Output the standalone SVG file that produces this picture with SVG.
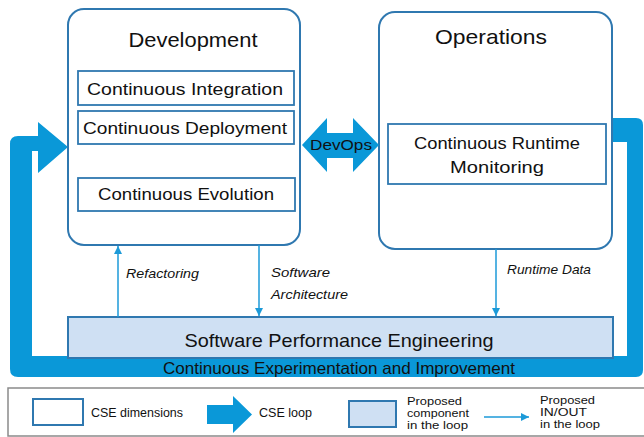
<svg xmlns="http://www.w3.org/2000/svg" width="644" height="437" viewBox="0 0 644 437">
<style>
text{font-family:"Liberation Sans","DejaVu Sans",sans-serif;fill:#111;}
.box{fill:#fff;stroke:#2f78b0;stroke-width:2;}
.inner{fill:#fff;stroke:#2f78b0;stroke-width:1.8;}
.spe{fill:#cfe0f3;stroke:#2f78b0;stroke-width:2;}
.loop{fill:#0a98d8;}
.thin{stroke:#1c9ad8;stroke-width:1.5;fill:none;marker-end:url(#ah);}
.t1{font-size:21px;}
.t2{font-size:17px;}
.it{font-size:13px;font-style:italic;}
.lg{font-size:13px;}
.ls{font-size:10.5px;}
</style>
<defs>
<marker id="ah" markerWidth="10" markerHeight="10" refX="9" refY="5" orient="auto" markerUnits="userSpaceOnUse">
<path d="M1,1 L9,5 L1,9 Z" fill="#1c9ad8"/>
</marker>
</defs>

<g id="loop">
<path class="loop" d="M612,118 L636,118 Q643,118 643,125 L643,370 Q643,377 636,377 L18,377 Q10,377 10,369 L10,144 Q10,136 18,136 L38,136 L38,122 L68,147 L38,173 L38,151 L32,151 L32,356 L627,356 L627,142 L612,142 Z"/>
<text x="339" y="374" text-anchor="middle" font-size="16.5" textLength="352" lengthAdjust="spacingAndGlyphs">Continuous Experimentation and Improvement</text>
</g>

<g id="development">
<rect class="box" x="68" y="9" width="232" height="236" rx="16"/>
<text class="t1" x="193" y="47" text-anchor="middle" textLength="129" lengthAdjust="spacingAndGlyphs">Development</text>
</g>
<g id="ci">
<rect class="inner" x="78" y="71" width="216" height="34"/>
<text class="t2" x="185" y="95" text-anchor="middle" textLength="196" lengthAdjust="spacingAndGlyphs">Continuous Integration</text>
</g>
<g id="cd">
<rect class="inner" x="78" y="111" width="216" height="33"/>
<text class="t2" x="185" y="134" text-anchor="middle" textLength="204" lengthAdjust="spacingAndGlyphs">Continuous Deployment</text>
</g>
<g id="ce">
<rect class="inner" x="78" y="178" width="217" height="33"/>
<text class="t2" x="186" y="200" text-anchor="middle" textLength="176" lengthAdjust="spacingAndGlyphs">Continuous Evolution</text>
</g>

<g id="operations">
<rect class="box" x="379" y="12" width="233" height="237" rx="16"/>
<text class="t1" x="491" y="44" text-anchor="middle" textLength="112" lengthAdjust="spacingAndGlyphs">Operations</text>
</g>
<g id="crm">
<rect class="inner" x="388" y="124" width="218" height="60"/>
<text class="t2" x="497" y="149" text-anchor="middle" textLength="166" lengthAdjust="spacingAndGlyphs">Continuous Runtime</text>
<text class="t2" x="497" y="173" text-anchor="middle" textLength="94" lengthAdjust="spacingAndGlyphs">Monitoring</text>
</g>

<g id="devops">
<path class="loop" d="M302,145 L327,118 L327,133 L353,133 L353,118 L379,145 L353,172 L353,158 L327,158 L327,172 Z"/>
<text x="341" y="150" text-anchor="middle" font-size="14" textLength="62" lengthAdjust="spacingAndGlyphs">DevOps</text>
</g>

<g id="spe">
<rect class="spe" x="68" y="317" width="545" height="41"/>
<text x="339" y="347" text-anchor="middle" font-size="19" textLength="309" lengthAdjust="spacingAndGlyphs">Software Performance Engineering</text>
</g>

<g id="connectors">
<line class="thin" x1="118" y1="317" x2="118" y2="246"/>
<line class="thin" x1="259" y1="245" x2="259" y2="316"/>
<line class="thin" x1="496" y1="249" x2="496" y2="316"/>
</g>
<g id="labels">
<text class="it" x="126" y="278" textLength="73" lengthAdjust="spacingAndGlyphs">Refactoring</text>
<text class="it" x="271" y="277" textLength="59" lengthAdjust="spacingAndGlyphs">Software</text>
<text class="it" x="271" y="299" textLength="77" lengthAdjust="spacingAndGlyphs">Architecture</text>
<text class="it" x="507" y="274" textLength="84" lengthAdjust="spacingAndGlyphs">Runtime Data</text>
</g>

<g id="legend">
<rect x="8" y="388" width="660" height="48" fill="#fff" stroke="#8a8a8a" stroke-width="1.5"/>
<rect x="33" y="399" width="50" height="26" fill="#fff" stroke="#2f78b0" stroke-width="2"/>
<text class="lg" x="91" y="417" textLength="92" lengthAdjust="spacingAndGlyphs">CSE dimensions</text>
<path class="loop" d="M207,405 L233,405 L233,396 L252,414.5 L233,433 L233,424 L207,424 Z"/>
<text class="lg" x="259" y="417" textLength="53" lengthAdjust="spacingAndGlyphs">CSE loop</text>
<rect x="349" y="401" width="47" height="26" fill="#cfe0f3" stroke="#2f78b0" stroke-width="2"/>
<text class="ls" x="407" y="405" textLength="55" lengthAdjust="spacingAndGlyphs">Proposed</text>
<text class="ls" x="407" y="417" textLength="62" lengthAdjust="spacingAndGlyphs">component</text>
<text class="ls" x="407" y="429" textLength="61" lengthAdjust="spacingAndGlyphs">in the loop</text>
<line class="thin" x1="484" y1="417" x2="529" y2="417"/>
<text class="ls" x="540" y="404" textLength="55" lengthAdjust="spacingAndGlyphs">Proposed</text>
<text class="ls" x="540" y="416" textLength="47" lengthAdjust="spacingAndGlyphs">IN/OUT</text>
<text class="ls" x="540" y="428" textLength="60" lengthAdjust="spacingAndGlyphs">in the loop</text>
</g>
</svg>
